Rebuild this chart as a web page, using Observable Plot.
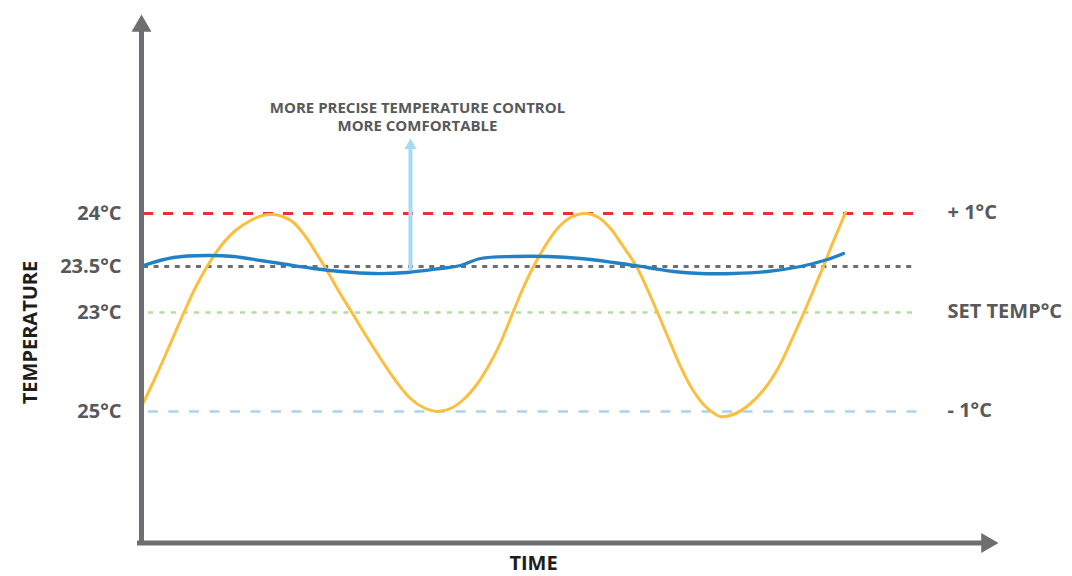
<!DOCTYPE html>
<html>
<head>
<meta charset="utf-8">
<script src="https://cdn.jsdelivr.net/npm/d3@7"></script>
<script src="https://cdn.jsdelivr.net/npm/@observablehq/plot@0.6"></script>
<style>
  html, body { margin: 0; padding: 0; background: #fff; }
  #chart svg { display: block; }
</style>
</head>
<body>
<div id="chart"></div>
<script>
// Level lines (temperature offset units; labels as printed)
const levelValues = [1.0, 0.47, 0.01, -0.98];
const leftLabels = ["24°C", "23.5°C", "23°C", "25°C"];
const rightLabelValues = [1.0, 0.01, -0.98];
const rightLabels = ["+ 1°C", "SET TEMP°C", "- 1°C"];

// Conventional control (yellow) – time vs temperature offset
const yellowT = [2,12,22,32,42,53,65,79,94,109,121,131,141,152,164,175,186,198,211,225,239,254,269,282,296,309,322,336,349,360,371,381,392,404,416,429,444,457,469,481,495,506,516,527,539,551,564,579,594,609,624,637,649,662,671,681,691,699,704];
const yellowV = [-0.89,-0.68,-0.46,-0.23,0,0.24,0.46,0.67,0.83,0.93,0.98,0.99,0.97,0.91,0.77,0.60,0.42,0.21,0,-0.23,-0.45,-0.67,-0.85,-0.94,-0.98,-0.95,-0.86,-0.70,-0.49,-0.27,0,0.24,0.47,0.68,0.85,0.96,1.00,0.96,0.85,0.68,0.47,0.24,0.01,-0.25,-0.53,-0.76,-0.93,-1.03,-1.00,-0.90,-0.74,-0.54,-0.29,0,0.21,0.45,0.70,0.89,1.01];

// Precise control (blue)
const blueT = [2,32,66,92,119,139,172,199,232,266,299,319,339,372,406,439,472,506,532,559,592,626,659,686,702];
const blueV = [0.48,0.56,0.58,0.57,0.53,0.50,0.45,0.42,0.40,0.41,0.45,0.48,0.55,0.57,0.57,0.55,0.51,0.46,0.42,0.40,0.40,0.42,0.47,0.54,0.60];

const annotationLines = ["MORE PRECISE TEMPERATURE CONTROL", "MORE COMFORTABLE"];
const annotationT = 276;
const annotationV = [2.01, 1.83];
const arrowT = 269;
const arrowFrom = 0.43;
const arrowTo = 1.64;
const arrowHeadV = 1.68;

const yTitle = "TEMPERATURE";
const xTitle = "TIME";

const yellow = yellowT.map((t, i) => ({t, v: yellowV[i]}));
const blue = blueT.map((t, i) => ({t, v: blueV[i]}));
const left = levelValues.map((v, i) => ({v, label: leftLabels[i]}));
const right = rightLabelValues.map((v, i) => ({v, label: rightLabels[i]}));
const ann = annotationLines.map((s, i) => ({s, v: annotationV[i]}));

const axisColor = "#6d6e71";
const labelColor = "#58595b";

const chart = Plot.plot({
  width: 1072,
  height: 576,
  marginLeft: 141,
  marginRight: 75,
  marginTop: 14,
  marginBottom: 34,
  x: {domain: [0, 856], axis: null},
  y: {domain: [-2.29, 2.99], axis: null},
  style: {fontFamily: "'Open Sans', sans-serif", background: "#fff", overflow: "visible"},
  marks: [
    // level lines
    Plot.ruleY([levelValues[0]], {x1: 2, x2: 776, stroke: "#ec2f37", strokeWidth: 3.2, strokeDasharray: "10,10"}),
    Plot.ruleY([levelValues[1]], {x1: 2, x2: 775, stroke: "#6d6e71", strokeWidth: 2.8, strokeDasharray: "5,5.6"}),
    Plot.ruleY([levelValues[2]], {x1: 7, x2: 775, stroke: "#b8dc9c", strokeWidth: 2.6, strokeDasharray: "5,6.5"}),
    Plot.ruleY([levelValues[3]], {x1: 7, x2: 776, stroke: "#abd3ea", strokeWidth: 2.6, strokeDasharray: "10,10.5"}),
    // annotation arrow
    Plot.ruleX([arrowT], {y1: arrowFrom, y2: arrowTo, stroke: "#a6dcf3", strokeWidth: 4}),
    Plot.dot([arrowT], {x: d => d, y: arrowHeadV, symbol: "triangle", r: 4.5, fill: "#a6dcf3", stroke: "none"}),
    // series
    Plot.line(yellow, {x: "t", y: "v", stroke: "#fbbf3d", strokeWidth: 3, curve: "catmull-rom"}),
    Plot.line(blue, {x: "t", y: "v", stroke: "#2280c4", strokeWidth: 3.3, curve: "catmull-rom"}),
    // axes with arrows
    Plot.ruleX([0], {y1: -2.32, y2: 2.84, stroke: axisColor, strokeWidth: 5}),
    Plot.ruleY([-2.295], {x1: -4, x2: 841, stroke: axisColor, strokeWidth: 5}),
    Plot.dot([0], {x: d => d, y: 2.875, symbol: "triangle", r: 7.4, fill: axisColor, stroke: "none"}),
    Plot.dot([845.5], {x: d => d, y: -2.295, symbol: "triangle", r: 7.4, rotate: 90, fill: axisColor, stroke: "none"}),
    // labels
    Plot.text(left, {x: 0, y: "v", text: "label", textAnchor: "end", lineAnchor: "bottom", dx: -20, dy: 6, fontSize: 20, fontWeight: 700, fill: labelColor}),
    Plot.text(right, {x: 856, y: "v", text: "label", textAnchor: "start", lineAnchor: "bottom", dx: -50, dy: 5, fontSize: 20, fontWeight: 700, fill: labelColor}),
    Plot.text(ann, {x: annotationT, y: "v", text: "s", textAnchor: "middle", lineAnchor: "bottom", fontSize: 15, fontWeight: 700, fill: labelColor}),
    Plot.text([yTitle], {x: -111, y: -0.19, text: d => d, rotate: -90, textAnchor: "middle", lineAnchor: "middle", fontSize: 20, fontWeight: 700, fill: "#1d1d1d"}),
    Plot.text([xTitle], {x: 392, y: -2.565, text: d => d, textAnchor: "middle", lineAnchor: "bottom", fontSize: 20, fontWeight: 700, fill: "#1d1d1d"})
  ]
});
document.getElementById("chart").appendChild(chart);
</script>
</body>
</html>
